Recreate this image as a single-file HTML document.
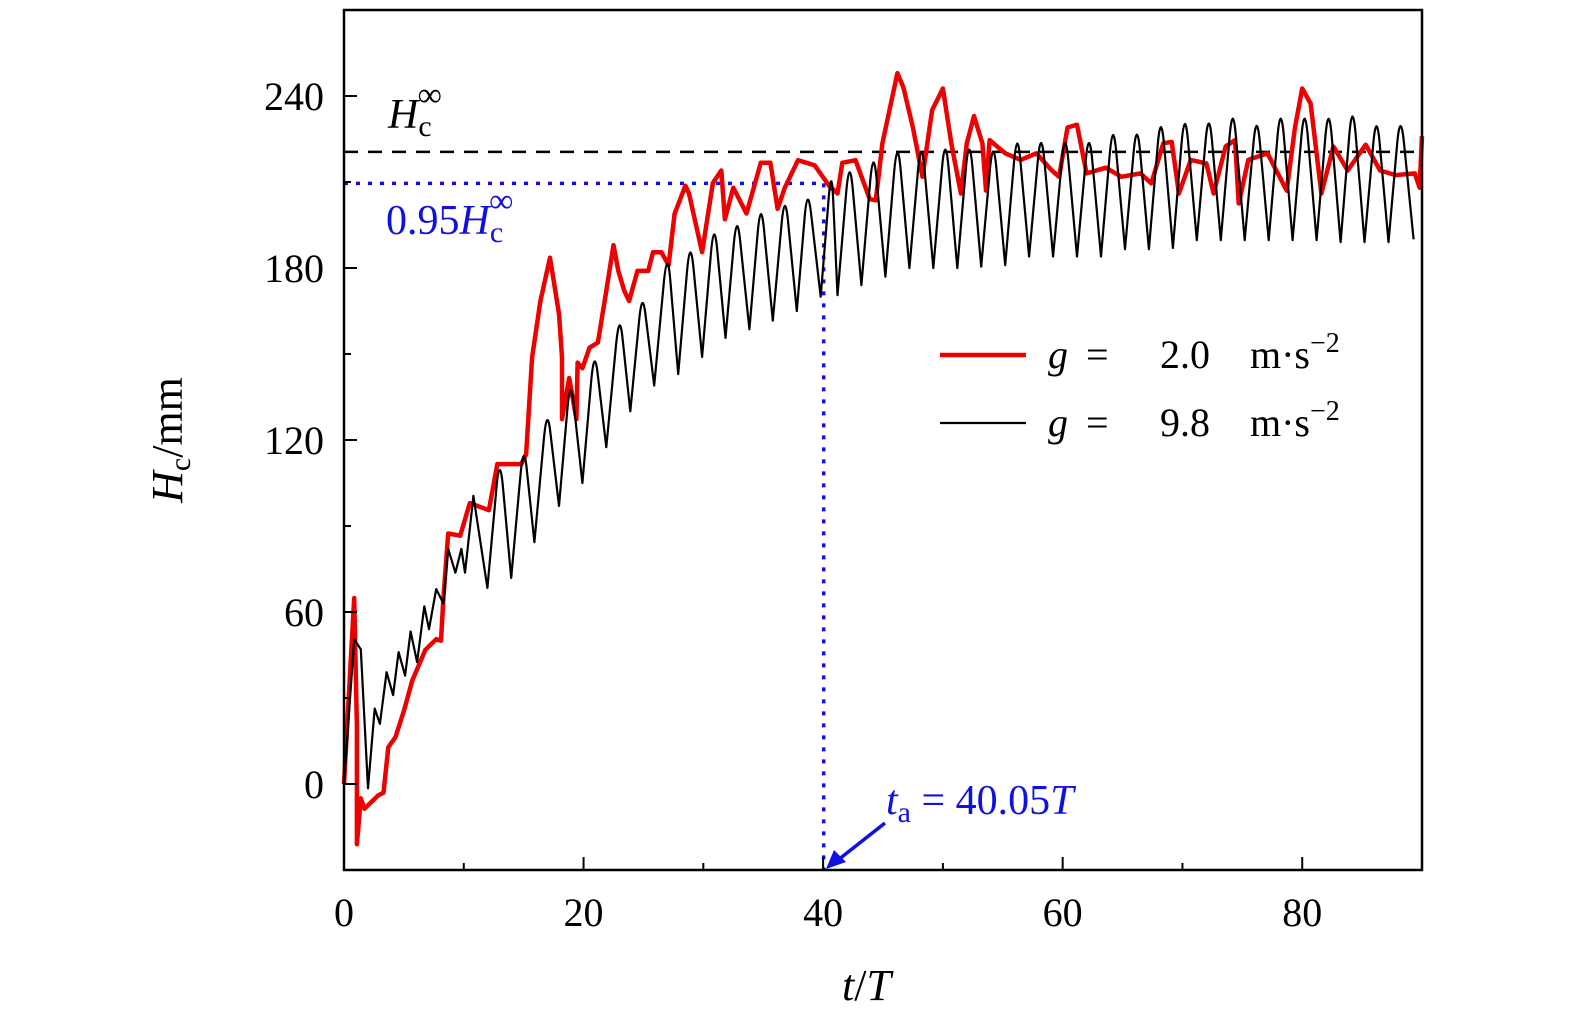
<!DOCTYPE html>
<html><head><meta charset="utf-8"><style>
html,body{margin:0;padding:0;background:#fff;overflow:hidden;width:1575px;height:1024px;}
svg{display:block;font-family:"Liberation Serif",serif;}
</style></head><body>
<svg id="chart" style="position:absolute;left:0;top:0" width="1575" height="1024" viewBox="0 0 1575 1024" xmlns="http://www.w3.org/2000/svg">
<g id="marks"></g>
<g id="axes"></g>
</svg>
<script>
const xTicks = [0, 20, 40, 60, 80];
const xMinor = [10, 30, 50, 70];
const yTicks = [0, 60, 120, 180, 240];
const yMinor = [30, 90, 150, 210];
const hInf = 220.5;
const h95 = 209.5;
const tA = 40.05;
const blackT = [0,0.85,1.4,2.0,2.56,3.0,3.56,4.1,4.56,5.1,5.56,6.1,6.7,7.1,7.7,8.3,8.7,9.3,9.8,10.1,10.8,11.97,13,13.96,15,15.9,16.95,17.95,18.9,19.9,20.9,21.9,23,23.9,24.9,25.9,27,27.9,28.9,29.9,30.9,31.85,32.8,33.85,34.8,35.8,36.8,37.8,38.7,39.8,40.7,41.2,42.2,43.2,44.2,45.2,46.2,47.2,48.2,49.2,50.2,51.2,52.2,53.2,54.2,55.2,56.2,57.2,58.2,59.2,60.2,61.2,62.2,63.2,64.2,65.2,66.2,67.2,68.2,69.2,70.2,71.2,72.2,73.2,74.2,75.2,76.2,77.2,78.2,79.2,80.2,81.2,82.2,83.2,84.2,85.2,86.2,87.2,88.2,89.3,90];
const blackV = [0,50.5,47,-1.5,26.3,21,39,31,46,37.8,53.2,42.5,62,54,68,63,82,73.7,82,73.7,100.5,68.4,115.8,71.9,120,84.4,132.6,97,143,105,153,117.5,165.6,130,173,139,188,143,191.7,149,198,155.6,200.6,158.6,205,161.6,207.8,165,209.6,170,216.7,170.5,220,174,223.5,177,227,180,227,180,228,180,228,180.5,227,181,230,184,230,184,230,184,230,184,233,186.6,233,186.6,236,187,237,189.7,237,189.7,239,189.7,236,189.7,239,189.7,239,189.7,239,189,240,189,236,189,236,190];
const redT = [0,0.85,1.08,1.08,1.4,1.7,2.85,3.3,3.7,4.3,5.0,5.7,6.8,7.7,8.1,8.3,8.7,9.7,10.5,12.1,12.8,14.8,15.2,15.7,16.4,17.2,17.95,18.2,18.2,18.8,19.4,19.5,19.9,20.5,21.2,21.9,22.5,22.9,23.4,23.8,24.5,25.4,25.8,26.5,27.1,27.6,28.5,28.8,29.9,30.8,31.5,31.8,32.5,33.6,34.8,35.6,36.2,36.8,37.9,39.3,40.5,41.2,41.6,42.7,43.9,44.4,44.95,46.2,46.7,47.5,48.3,49.1,50.0,50.7,51.5,52.0,52.6,53.3,53.6,53.9,55.2,56.5,57.8,59.1,59.7,60.4,61.2,62.0,63.6,64.9,66.5,67.4,68.4,69.1,69.7,70.7,72.0,72.6,73.6,74.4,74.7,75.5,77.1,78.7,79.4,80.0,80.7,81.6,82.6,83.8,85.3,86.5,87.8,89.4,89.8,90];
const redV = [0,64.9,20,-21,-5,-8.6,-4,-3,12.8,16.4,25.5,36.1,46.8,50.5,50,64.9,87.4,86.6,98,95.5,111.6,111.6,115,148.8,168.5,183.6,164,148.8,127.3,141.6,127.3,147,145,152.2,154,172,188,179,172,168.5,179,179,185.5,185.5,181,198.9,208.7,206,185.5,209.7,214,197,208,199,216.7,216.7,200.6,208,217.6,215.8,208.7,206,216.7,217.6,204,203.6,223.5,248,243,229,211.8,235,242.6,223.5,206,223.5,233,223.5,207,224.6,220,217.7,220,214,211.8,229,230,213,215,211.8,213,209.5,223.5,224,206,217.7,216.5,206,222.4,224.6,202.5,217.7,220,207,229,242.6,237.4,206,222.4,214,223,214,212.4,213,208,226];

const X0=344,X1=1422,Y0=10,Y1=870;
const xs=t=>X0+t*(X1-X0)/90;
const ys=v=>784-v*(172/60);
const NS="http://www.w3.org/2000/svg";
function mk(tag,attrs,parent){const e=document.createElementNS(NS,tag);for(const k in attrs)e.setAttribute(k,attrs[k]);parent.appendChild(e);return e;}
const marks=document.getElementById('marks');
const axes=document.getElementById('axes');

let l=mk('line',{x1:X0,x2:X1,y1:ys(hInf),y2:ys(hInf),stroke:'#000','stroke-width':2.5,'stroke-dasharray':'14,10'},marks);


l=mk('line',{x1:X0,x2:xs(tA),y1:ys(h95),y2:ys(h95),stroke:'#1010e0','stroke-width':3.5,'stroke-dasharray':'4,8'},marks);


l=mk('line',{x1:xs(tA),x2:xs(tA),y1:ys(h95),y2:Y1,stroke:'#1010e0','stroke-width':3.5,'stroke-dasharray':'4,8'},marks);



function path(T,V){return T.map((t,i)=>(i?'L':'M')+xs(t).toFixed(1)+','+ys(V[i]).toFixed(1)).join('');}
function smoothPath(T,V){
  const P=T.map((t,i)=>[xs(t),ys(V[i])]);
  let d='M'+P[0][0].toFixed(1)+','+P[0][1].toFixed(1);
  for(let i=1;i<P.length;i++){
    const isPeak = i<P.length-1 && V[i]>V[i-1] && V[i]>V[i+1] && i>20;
    if(isPeak){
      const a=P[i-1],b=P[i],c=P[i+1];
      const f=0.3;
      const p1=[b[0]+(a[0]-b[0])*f,b[1]+(a[1]-b[1])*f];
      const p2=[b[0]+(c[0]-b[0])*f,b[1]+(c[1]-b[1])*f];
      d+='L'+p1[0].toFixed(1)+','+p1[1].toFixed(1)+'Q'+b[0].toFixed(1)+','+(b[1]-3).toFixed(1)+' '+p2[0].toFixed(1)+','+p2[1].toFixed(1);
    } else d+='L'+P[i][0].toFixed(1)+','+P[i][1].toFixed(1);
  }
  return d;
}
let p=mk('path',{d:path(redT,redV),fill:'none',stroke:'#ee0000','stroke-width':4.5,'stroke-linejoin':'round'},marks);


p=mk('path',{d:smoothPath(blackT,blackV),fill:'none',stroke:'#000','stroke-width':2.2,'stroke-linejoin':'round'},marks);



let r=mk('rect',{x:X0,y:Y0,width:X1-X0,height:Y1-Y0,fill:'none',stroke:'#000','stroke-width':2.5},axes);


xTicks.forEach(t=>{
  let tk=mk('line',{x1:xs(t),x2:xs(t),y1:Y1,y2:Y1-13,stroke:'#000','stroke-width':2},axes);
  
  
  let tx=mk('text',{x:xs(t),y:926,'font-size':40,'text-anchor':'middle'},axes);tx.textContent=t;
  
  
});
xMinor.forEach(t=>{
  let tk=mk('line',{x1:xs(t),x2:xs(t),y1:Y1,y2:Y1-7,stroke:'#000','stroke-width':2},axes);
  
  
});
yTicks.forEach(v=>{
  let tk=mk('line',{x1:X0,x2:X0+13,y1:ys(v),y2:ys(v),stroke:'#000','stroke-width':2},axes);
  
  
  let tx=mk('text',{x:324,y:ys(v)+14,'font-size':40,'text-anchor':'end'},axes);tx.textContent=v;
  
  
});
yMinor.forEach(v=>{
  let tk=mk('line',{x1:X0,x2:X0+7,y1:ys(v),y2:ys(v),stroke:'#000','stroke-width':2},axes);
  
  
});
</script>
<svg style="position:absolute;left:0;top:0" width="1575" height="1024" xmlns="http://www.w3.org/2000/svg" font-family="Liberation Serif, serif">
<text x="842" y="1000" font-size="44"><tspan font-style="italic">t</tspan>/<tspan font-style="italic">T</tspan></text>
<text transform="translate(182,440) rotate(-90)" text-anchor="middle" font-size="44"><tspan font-style="italic">H</tspan><tspan font-size="30" dy="8">c</tspan><tspan dy="-8">/mm</tspan></text>
<text x="388" y="128" font-size="42"><tspan font-style="italic">H</tspan><tspan font-size="30" dy="8">c</tspan><tspan font-size="34" dx="-14" dy="-30">∞</tspan></text>
<text x="386" y="234" font-size="42" fill="#1010e0">0.95<tspan font-style="italic">H</tspan><tspan font-size="30" dy="8">c</tspan><tspan font-size="34" dx="-14" dy="-30">∞</tspan></text>
<text x="886" y="814" font-size="42" fill="#1010e0"><tspan font-style="italic">t</tspan><tspan font-size="30" dy="8">a</tspan><tspan dy="-8"> = 40.05</tspan><tspan font-style="italic">T</tspan></text>
<g>
<line x1="885" y1="823" x2="838" y2="860" stroke="#1010e0" stroke-width="3.5"/>
<polygon points="826,869 834,850 846,862" fill="#1010e0"/>
</g>
<g>
<line x1="940" y1="355" x2="1026" y2="355" stroke="#ee0000" stroke-width="4.5"/>
<text y="368" font-size="40"><tspan x="1048" font-style="italic">g</tspan><tspan x="1086">=</tspan><tspan x="1160">2.0</tspan><tspan x="1250">m·s</tspan><tspan x="1310" font-size="28" dy="-16">−2</tspan></text>
<line x1="940" y1="423" x2="1026" y2="423" stroke="#000" stroke-width="2.2"/>
<text y="436" font-size="40"><tspan x="1048" font-style="italic">g</tspan><tspan x="1086">=</tspan><tspan x="1160">9.8</tspan><tspan x="1250">m·s</tspan><tspan x="1310" font-size="28" dy="-16">−2</tspan></text>
</g>
</svg>
</body></html>
